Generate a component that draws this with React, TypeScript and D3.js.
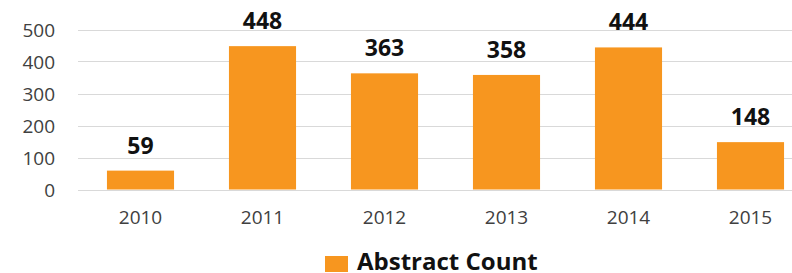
import * as React from "react";
import * as d3 from "d3";

const years = ["2010", "2011", "2012", "2013", "2014", "2015"];
const abstractCounts = [59, 448, 363, 358, 444, 148];
const yTicks = [0, 100, 200, 300, 400, 500];
const seriesName = "Abstract Count";

const W = 792;
const H = 273;
const FONT = "'Open Sans', 'Noto Sans', sans-serif";
const ORANGE = "#F7961F";

export default function App() {
  const x = d3.scaleBand<string>().domain(years).range([79.5, 811.5]).paddingInner(0.45).paddingOuter(0.225);
  const y = d3.scaleLinear().domain([0, 500]).range([189.5, 29.5]);

  return (
    <svg
      width={W}
      height={H}
      viewBox={`0 0 ${W} ${H}`}
      style={{ position: "absolute", left: 0, top: 0, fontFamily: FONT }}
    >
      <rect width={W} height={H} fill="#fff" />
      {yTicks.map((t) => (
        <g key={t}>
          <line x1={78} x2={W} y1={Math.round(y(t)) + 0.5} y2={Math.round(y(t)) + 0.5} stroke="#d9d9d9" strokeWidth={1} />
          <text x={55} y={y(t) + 7} textAnchor="end" fontSize={19} fill="#404040">
            {t}
          </text>
        </g>
      ))}
      {years.map((yr, i) => {
        const v = abstractCounts[i];
        const cx = (x(yr) ?? 0) + x.bandwidth() / 2;
        return (
          <g key={yr}>
            <rect x={x(yr)} y={y(v)} width={x.bandwidth()} height={y(0) - y(v)} fill={ORANGE} />
            <text x={cx} y={y(v) - 17} textAnchor="middle" fontSize={23} fontWeight="bold" fill="#111">
              {v}
            </text>
            <text x={cx} y={224} textAnchor="middle" fontSize={19} fill="#404040">
              {yr}
            </text>
          </g>
        );
      })}
      <rect x={325} y={256} width={23} height={16} fill={ORANGE} />
      <text x={357} y={270} fontSize={24} fontWeight="bold" fill="#111">
        {seriesName}
      </text>
    </svg>
  );
}
